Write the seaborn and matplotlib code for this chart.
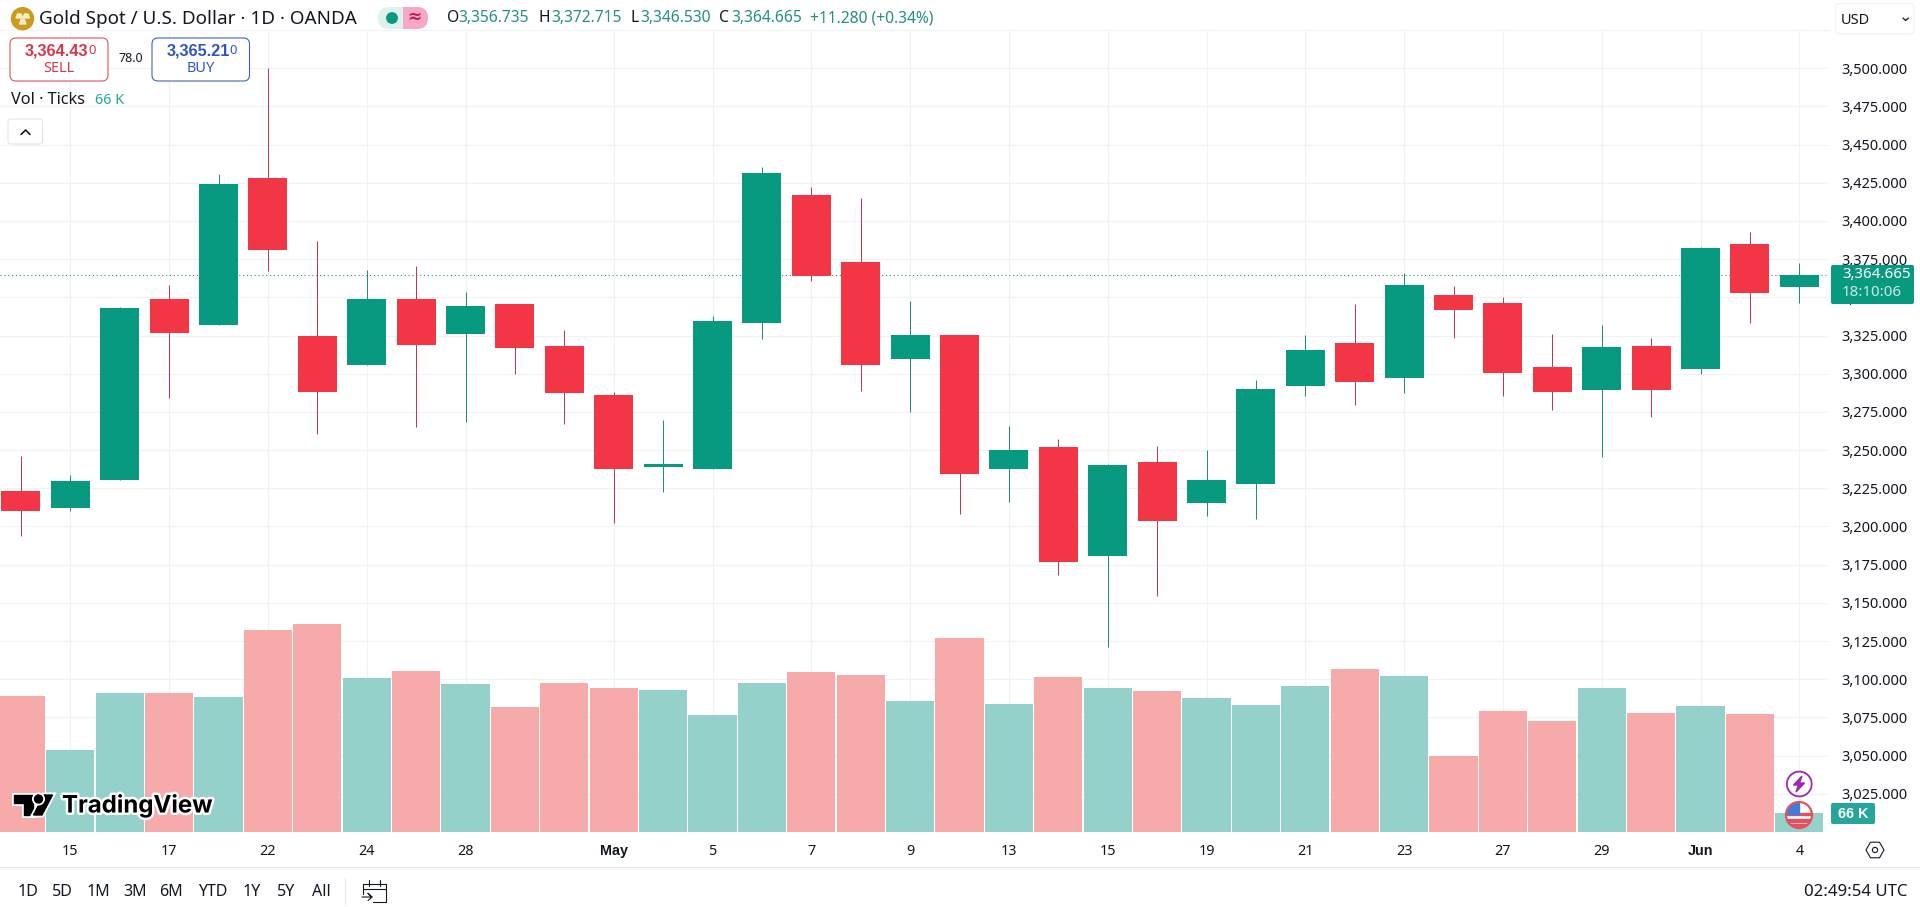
"""
Gold Spot / U.S. Dollar daily candles with tick volume, TradingView look.
"""

import matplotlib
matplotlib.use("Agg")
import matplotlib.pyplot as plt
import matplotlib.patheffects as pe
from matplotlib.patches import Circle, FancyBboxPatch, Polygon, Rectangle, RegularPolygon
import pandas as pd
import seaborn as sns

open_prices = [3223.2, 3212.0, 3230.3, 3348.8, 3331.8, 3428.0, 3324.6, 3305.6, 3348.8, 3325.9,
               3345.6, 3318.1, 3286.0, 3238.9, 3237.6, 3333.1, 3416.9, 3373.1, 3309.6, 3325.2,
               3237.6, 3252.0, 3180.6, 3242.1, 3215.3, 3227.7, 3291.9, 3320.0, 3297.1, 3351.4,
               3346.2, 3304.3, 3289.3, 3318.1, 3303.0, 3384.8, 3356.735]
high_prices = [3246.1, 3233.6, 3343.8, 3358.0, 3430.6, 3500.4, 3386.8, 3367.8, 3370.4, 3353.4,
               3345.6, 3328.6, 3288.0, 3269.7, 3337.7, 3435.2, 3422.2, 3415.0, 3347.5, 3325.2,
               3265.7, 3257.2, 3240.8, 3252.6, 3250.0, 3295.8, 3325.2, 3345.5, 3365.8, 3357.3,
               3350.1, 3325.9, 3331.8, 3323.3, 3382.8, 3392.7, 3372.715]
low_prices = [3193.7, 3210.3, 3230.3, 3283.8, 3331.8, 3367.1, 3260.4, 3305.6, 3265.0, 3268.3,
              3299.8, 3267.0, 3202.3, 3222.5, 3237.6, 3322.7, 3360.6, 3288.6, 3274.9, 3208.1,
              3216.0, 3168.2, 3121.1, 3154.4, 3206.8, 3204.8, 3285.3, 3279.4, 3287.3, 3323.3,
              3285.3, 3276.2, 3245.4, 3271.6, 3299.7, 3333.1, 3346.53]
close_prices = [3210.1, 3229.7, 3342.9, 3326.5, 3424.1, 3380.9, 3287.9, 3348.8, 3318.7, 3344.2,
                3316.8, 3287.3, 3237.6, 3240.9, 3334.5, 3431.3, 3363.9, 3305.7, 3325.3, 3234.3,
                3250.0, 3176.7, 3240.2, 3203.5, 3230.4, 3289.9, 3315.4, 3294.5, 3358.0, 3341.6,
                3300.4, 3287.9, 3317.4, 3289.3, 3382.2, 3352.7, 3364.665]
volumes = [472, 285, 483, 483, 469, 702, 723, 535, 559, 514, 434, 518, 500, 493, 406, 518, 556, 545, 455,
           674, 445, 538, 500, 490, 466, 441, 507, 566, 542, 264, 420, 386, 500, 413, 438, 410, 66]

time_tick_bars = [1, 3, 5, 7, 9, 12, 14, 16, 18, 20, 22, 24, 26, 28, 30, 32, 34, 36]
time_tick_labels = ["15", "17", "22", "24", "28", "May", "5", "7", "9", "13", "15", "19", "21", "23",
                    "27", "29", "Jun", "4"]
price_ticks = list(range(3025, 3525, 25))
last_price = 3364.665
ranges = ["1D", "5D", "1M", "3M", "6M", "YTD", "1Y", "5Y", "All"]

TEAL = "#089981"
RED = "#F23645"
GRID = "#f0f3f6"
INK = "#131722"
BOLD = ["Liberation Sans", "DejaVu Sans"]
W, H = 1920, 907


def px(v):
    """Pixel size to points at 100 dpi."""
    return v * 0.72


def label(ui, x, y, s, size, color=INK, ha="left", **kw):
    ui.text(x, y, s, fontsize=px(size), color=color, ha=ha, va="center", **kw)


def box(ui, x0, y0, x1, y1, radius, face="white", edge="none", lw=1.0, **kw):
    patch = FancyBboxPatch((x0, y0), x1 - x0, y1 - y0,
                           boxstyle=f"round,pad=0,rounding_size={radius}",
                           facecolor=face, edgecolor=edge, linewidth=px(lw), **kw)
    ui.add_patch(patch)
    return patch


def draw_header(ui):
    ui.add_patch(Circle((22.5, 18.7), 11, color="#CC9A1C"))
    for pts in ([(16, 18), (22.5, 18), (21, 14), (17.5, 14)],
                [(23, 18), (29.5, 18), (28, 14), (24.5, 14)],
                [(19.5, 24), (26, 24), (24.5, 19.5), (21, 19.5)]):
        ui.add_patch(Polygon(pts, color="#FBEFC8"))
    label(ui, 39, 18.5, "Gold Spot / U.S. Dollar · 1D · OANDA", 18.9)

    box(ui, 378, 7, 428, 29, 11, face="#DDF1ED")
    pink = box(ui, 378, 7, 428, 29, 11, face="#F7A8C4")
    clip = Rectangle((403, 0), 40, 40, transform=ui.transData)
    pink.set_clip_path(clip)
    ui.add_patch(Circle((392, 18), 5.2, color=TEAL))
    label(ui, 414.5, 17.5, "≈", 17, color="#C2185B", ha="center", fontweight="bold")

    for x, s in ((446.5, "O"), (539, "H"), (631, "L"), (719, "C")):
        label(ui, x, 18.5, s, 15.6)
    for x, s in ((458.5, "3,356.735"), (551, "3,372.715"), (640, "3,346.530"), (731, "3,364.665"),
                 (810, "+11.280 (+0.34%)")):
        label(ui, x, 18.5, s, 15.6, color="#22917f")

    box(ui, 10, 38, 108, 81, 6, edge="#E0505E", lw=1.1)
    label(ui, 24.5, 51.5, "3,364.43", 16.2, color="#D9364A", family=BOLD, fontweight="bold")
    label(ui, 88, 50.5, "0", 13, color="#D9364A")
    label(ui, 58.4, 69, "SELL", 14.5, color="#D9364A", ha="center")
    label(ui, 130.6, 58.7, "78.0", 12.5, ha="center")
    box(ui, 152, 38, 249.5, 81, 6, edge="#3F62B8", lw=1.1)
    label(ui, 166.5, 51.5, "3,365.21", 16.2, color="#2F55C4", family=BOLD, fontweight="bold")
    label(ui, 229, 50.5, "0", 13, color="#2F55C4")
    label(ui, 200.8, 69, "BUY", 14.5, color="#2F55C4", ha="center")

    label(ui, 11, 100.5, "Vol · Ticks", 16.3)
    label(ui, 94.7, 100.5, "66 K", 14.5, color="#22AB94")
    box(ui, 8, 119, 42.5, 144, 3, edge="#E0E3EB")
    ui.plot([21, 25.6, 30], [134.5, 130, 134.5], color=INK, lw=px(1.6))


def draw_right_side(ui):
    box(ui, 1835.7, 3.5, 1914, 34, 4, edge="#EDEFF3")
    label(ui, 1840.7, 20, "USD", 14.5)
    ui.plot([1903, 1905.7, 1908.4], [18, 20.5, 18], color=INK, lw=px(1.3))

    box(ui, 1831, 265, 1914, 304, 2, face=TEAL)
    label(ui, 1842, 274.5, "3,364.665", 15, color="white")
    label(ui, 1842, 293, "18:10:06", 15, color="#CDEBE6")
    box(ui, 1831, 803, 1875, 824, 2, face="#26A69A")
    label(ui, 1853, 813.5, "66 K", 14.5, color="white", ha="center", family=BOLD, fontweight="bold")

    ui.add_patch(RegularPolygon((1875, 850), 6, radius=9, orientation=0.5236,
                                facecolor="white", edgecolor=INK, linewidth=px(1.1)))
    ui.add_patch(Circle((1875, 850), 2.6, facecolor="white", edgecolor=INK, linewidth=px(1.1)))


def draw_markers(ui):
    ui.add_patch(Circle((1799.3, 784), 12.4, facecolor="white", edgecolor="#9C27B0", linewidth=px(1.8)))
    ui.add_patch(Polygon([(1802, 776), (1793.5, 785), (1798.5, 785), (1796, 792),
                          (1804.5, 783), (1799.5, 783)], color="#9C27B0"))

    disc = Circle((1799, 815), 12.5, facecolor="white", edgecolor="none")
    ui.add_patch(disc)
    for y0 in (812.5, 819, 824):
        stripe = Rectangle((1785, y0), 28, 2.8, color="#E4505C")
        ui.add_patch(stripe)
        stripe.set_clip_path(disc)
    field = Rectangle((1785, 802), 14, 11.5, color="#3B7DDD")
    ui.add_patch(field)
    field.set_clip_path(disc)
    ui.add_patch(Circle((1799, 815), 13, facecolor="none", edgecolor="#E4505C", linewidth=px(2.2)))


def draw_logo(ui):
    halo = [pe.withStroke(linewidth=px(5), foreground="white")]
    shapes = [Polygon([(14, 795), (33, 795), (33, 815), (24, 815), (24, 803), (14, 803)], color="black"),
              Polygon([(44, 795), (52.5, 795), (42, 815), (33.5, 815)], color="black"),
              Circle((38.5, 799), 4, color="black")]
    for shape in shapes:
        shape.set_path_effects(halo)
        ui.add_patch(shape)
    ui.text(62, 806, "TradingView", fontsize=px(24), color="black", ha="left", va="center",
            family=["Inter", "DejaVu Sans"], fontweight="bold", path_effects=halo)


def draw_footer(ui):
    ui.plot([0, W], [867, 867], color="#E6E8EE", lw=px(1.2))
    centers = [27.8, 62.4, 98.8, 134.7, 171.4, 212.7, 252, 286.5, 321.6]
    for x, s in zip(centers, ranges):
        label(ui, x, 891.5, s, 16, ha="center")
    ui.plot([345, 345], [878, 904], color="#E6E8EE", lw=px(1.2))

    # calendar with arrow
    ui.plot([363, 363, 385.5, 385.5, 373], [894, 884, 884, 902, 902], color=INK, lw=px(1.1))
    ui.plot([363, 385.5], [889, 889], color=INK, lw=px(1.1))
    ui.plot([369, 369], [880, 886], color=INK, lw=px(1.1))
    ui.plot([380, 380], [880, 886], color=INK, lw=px(1.1))
    ui.plot([362, 372, 368, 372, 368], [897, 897, 893.5, 897, 900.5], color=INK, lw=px(1.1))

    label(ui, 1907, 891.5, "02:49:54 UTC", 16.8, ha="right")


def main():
    sns.set_theme(style="white")
    plt.rcParams["font.family"] = ["Noto Sans", "DejaVu Sans"]

    df = pd.DataFrame({"bar": range(len(volumes)), "open": open_prices, "high": high_prices,
                       "low": low_prices, "close": close_prices, "volume": volumes})
    df["direction"] = ["up" if c >= o else "down" for o, c in zip(df["open"], df["close"])]

    fig = plt.figure(figsize=(W / 100, H / 100), dpi=100, facecolor="white")
    ax = fig.add_axes([0, 1 - 832 / H, 1828 / W, 802 / H])

    # price grid, wicks, bodies
    colors = df["direction"].map({"up": TEAL, "down": RED})
    wick_colors = df["direction"].map({"up": "#1F8C7E", "down": "#BE3A50"})
    ax.vlines(df["bar"], df["low"], df["high"], colors=wick_colors, linewidth=px(1), zorder=3)
    ax.bar(df["bar"], (df["close"] - df["open"]).abs(), bottom=df[["open", "close"]].min(axis=1),
           width=0.79, color=colors, linewidth=0, zorder=4)
    ax.axhline(last_price, color="#2A8F84", linewidth=px(1.1), linestyle=(0, (1, 2.5)), zorder=2)

    ax.grid(True, color=GRID, linewidth=px(1.2))
    ax.set_axisbelow(True)
    for side in ("left", "right", "bottom"):
        ax.spines[side].set_visible(False)
    ax.spines["top"].set_color(GRID)
    ax.spines["top"].set_linewidth(px(1.2))

    # volume pane shares the same time axis
    ax_vol = ax.twinx()
    sns.barplot(data=df, x="bar", y="volume", hue="direction", dodge=False, native_scale=True,
                palette={"up": "#8ECFC8", "down": "#F6A5A4"}, width=0.975, saturation=1,
                linewidth=0, alpha=0.94, legend=False, ax=ax_vol)
    ax_vol.set_ylim(0, 2786)
    ax_vol.set_yticks([])
    ax_vol.set_xlabel("")
    ax_vol.set_ylabel("")
    ax_vol.patch.set_visible(False)
    for spine in ax_vol.spines.values():
        spine.set_visible(False)
    ax_vol.tick_params(axis="x", length=0)

    # twinx moves the price ticks to the left, so set them up after it
    ax.set_xlim(-0.423, 36.58)
    ax.set_ylim(3000, 3525)
    ax.set_xticks(time_tick_bars, time_tick_labels)
    ax.set_yticks(price_ticks, [f"{p:,.3f}" for p in price_ticks])
    ax.yaxis.tick_right()
    ax.tick_params(axis="y", length=0, pad=9.4, labelsize=px(14.6), labelcolor=INK)
    ax.tick_params(axis="x", length=0, pad=8.6, labelsize=px(14.4), labelcolor=INK)
    for tick in ax.get_xticklabels():
        if tick.get_text() in ("May", "Jun"):
            tick.set_fontfamily(BOLD)
            tick.set_fontweight("bold")

    # TradingView chrome drawn in pixel coordinates
    ui = fig.add_axes([0, 0, 1, 1], zorder=10)
    ui.set_xlim(0, W)
    ui.set_ylim(H, 0)
    ui.axis("off")
    draw_header(ui)
    draw_right_side(ui)
    draw_markers(ui)
    draw_logo(ui)
    draw_footer(ui)

    fig.savefig("out.png", dpi=100)


if __name__ == "__main__":
    main()
